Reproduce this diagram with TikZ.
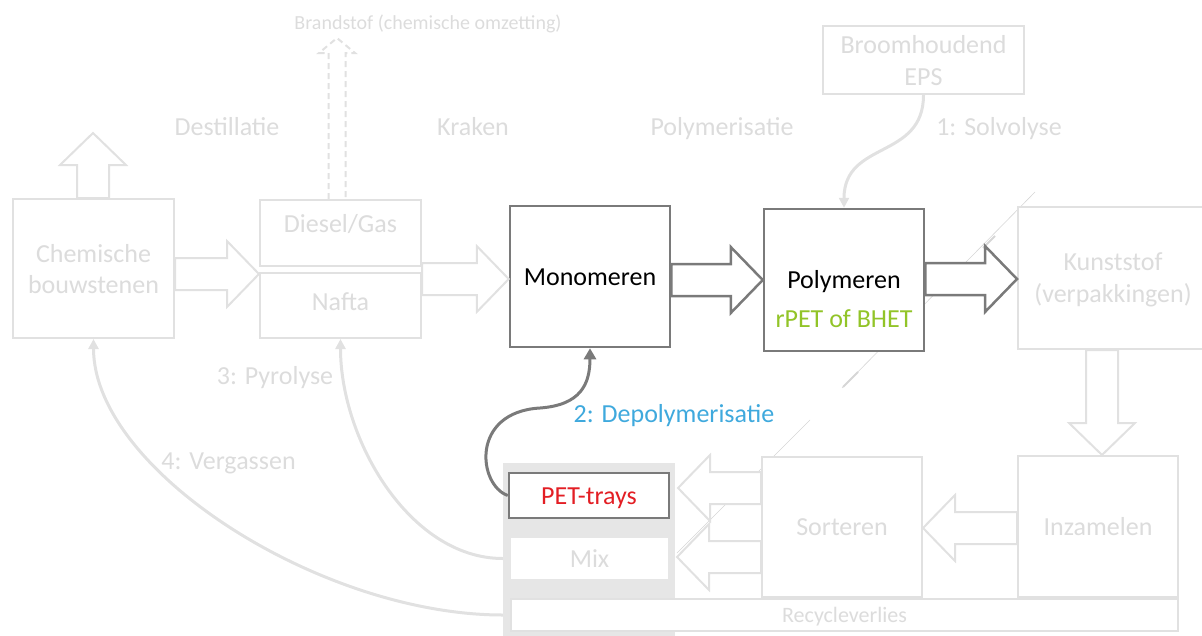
\documentclass[tikz,border=0pt]{standalone}
\usepackage{fontspec}
\setmainfont{Carlito}
\usetikzlibrary{arrows.meta,calc}
\definecolor{lgline}{HTML}{E1E1E1}
\definecolor{lgtext}{HTML}{DCDCDC}
\definecolor{contfill}{HTML}{E6E6E6}
\definecolor{dgline}{HTML}{7A7A7A}
\definecolor{ghostc}{HTML}{D6D6D6}
\definecolor{rpetgreen}{HTML}{92C428}
\definecolor{depblue}{HTML}{3FA9DD}
\definecolor{petred}{HTML}{E31E24}
\newcommand\arS{16pt}
\newcommand\arH{33pt}
\newcommand\arL{32pt}
% right-pointing block arrow: #1 start (x used), #2 tip, #3 style
\newcommand\barrR[3]{\draw[#3] let \p1=#1, \p2=#2 in
  (\x1,{\y2+\arS}) -- ({\x2-\arL},{\y2+\arS}) -- ({\x2-\arL},{\y2+\arH}) -- (\x2,\y2)
  -- ({\x2-\arL},{\y2-\arH}) -- ({\x2-\arL},{\y2-\arS}) -- (\x1,{\y2-\arS}) -- cycle;}
\newcommand\barrL[3]{\draw[#3] let \p1=#1, \p2=#2 in
  (\x1,{\y2+\arS}) -- ({\x2+\arL},{\y2+\arS}) -- ({\x2+\arL},{\y2+\arH}) -- (\x2,\y2)
  -- ({\x2+\arL},{\y2-\arH}) -- ({\x2+\arL},{\y2-\arS}) -- (\x1,{\y2-\arS}) -- cycle;}
\newcommand\barrU[3]{\draw[#3] let \p1=#1, \p2=#2 in
  ({\x2-\arS},\y1) -- ({\x2-\arS},{\y2-\arL}) -- ({\x2-\arH},{\y2-\arL}) -- (\x2,\y2)
  -- ({\x2+\arH},{\y2-\arL}) -- ({\x2+\arS},{\y2-\arL}) -- ({\x2+\arS},\y1) -- cycle;}
\newcommand\barrD[3]{\draw[#3] let \p1=#1, \p2=#2 in
  ({\x2-\arS},\y1) -- ({\x2-\arS},{\y2+\arL}) -- ({\x2-\arH},{\y2+\arL}) -- (\x2,\y2)
  -- ({\x2+\arH},{\y2+\arL}) -- ({\x2+\arS},{\y2+\arL}) -- ({\x2+\arS},\y1) -- cycle;}
\begin{document}
\begin{tikzpicture}[x=1pt,y=-1pt,
  lbox/.style={draw=lgline, line width=2pt, fill=white, inner sep=0pt},
  dbox/.style={draw=dgline, line width=2.5pt, fill=white, inner sep=0pt},
  btxt/.style={font=\fontsize{26}{31}\selectfont, text height=17pt, text depth=0pt},
  lab/.style={font=\fontsize{26}{31}\selectfont, text=lgtext, anchor=base, inner sep=0pt},
  larrow/.style={draw=lgline, line width=2pt, fill=white},
  darrow/.style={draw=dgline, line width=2.5pt, fill=white},
  lcurve/.style={draw=lgline, line width=3pt, -{Triangle[length=10pt,width=10pt]}},
  dcurve/.style={draw=dgline, line width=3pt, -{Triangle[length=11pt,width=12pt]}},
  ghostline/.style={draw=ghostc, line width=0.6pt}
]
\useasboundingbox (0,0) rectangle (1202,635);
\clip (0,0) rectangle (1202,635);

% faint leftover diagonal lines
\draw[ghostline] (677,553) -- (810,420);
\draw[ghostline] (842,388) -- (1035,192);
\draw[ghostline, line width=2pt] (843,387) -- (858,372);
\draw[ghostline, line width=2pt] (983,248) -- (995,236);

% boxes
\node[lbox, minimum width=161pt, minimum height=139pt] (chem) at (93.5,268.5) {};
\node[lab] (chemt1) at (93.5,262) {Chemische};
\node[lab] (chemt2) at (93.5,293) {bouwstenen};

\node[lbox, minimum width=161pt, minimum height=66pt] (diesel) at (340.5,233) {};
\node[lab] (dieselt) at (340.5,232) {Diesel/Gas};
\node[lbox, minimum width=161pt, minimum height=65pt] (nafta) at (340.5,305.5) {};
\node[lab] (naftat) at (340.5,310) {Nafta};

\node[dbox, btxt, minimum width=160pt, minimum height=141pt] (mono) at (590,276.5) {Monomeren};

\node[dbox, minimum width=160pt, minimum height=142pt] (poly) at (844,280) {};
\node[lab, text=black] (polyt) at (844,288) {Polymeren};
\node[lab, text=rpetgreen] (polyt2) at (844,327) {rPET of BHET};

\node[lbox, minimum width=190pt, minimum height=142pt] (kunst) at (1113,278) {};
\node[lab] (kunstt1) at (1113,270) {Kunststof};
\node[lab] (kunstt2) at (1113,302) {(verpakkingen)};

\node[lbox, minimum width=201pt, minimum height=68pt] (eps) at (923.5,60) {};
\node[lab] (epst1) at (923.5,53) {Broomhoudend};
\node[lab] (epst2) at (923.5,85) {EPS};

\node[lbox, btxt, text=lgtext, minimum width=160pt, minimum height=141pt] (inz) at (1098,526.5) {Inzamelen};
\node[lbox, btxt, text=lgtext, minimum width=160pt, minimum height=140pt] (sort) at (842,527) {Sorteren};

\node[fill=contfill, inner sep=0pt, minimum width=172pt, minimum height=180pt] (cont) at (589,553) {};
\node[dbox, btxt, text=petred, minimum width=160pt, minimum height=45pt] (pet) at (589,495.5) {PET-trays};
\node[fill=white, inner sep=0pt, btxt, text=lgtext, minimum width=157pt, minimum height=41pt] (mix) at (589.5,558.5) {Mix};
\node[lbox, font=\fontsize{22}{26}\selectfont, text height=14pt, text depth=0pt, text=lgtext,
      minimum width=667pt, minimum height=32pt] (recyc) at (844.5,615) {Recycleverlies};

% free ends
\coordinate (chemup) at (93,133);
\coordinate (fuel) at (337,38);
\coordinate (petin) at (678,488);
\coordinate (mixin) at (677,557);

% block arrows
\barrU{(chem.north)}{(chemup)}{larrow}
\barrR{(chem.east)}{(diesel.south west |- 0,274)}{larrow}
\barrR{(nafta.east)}{(mono.west |- 0,279)}{larrow}
\barrR{(mono.east)}{(poly.west |- 0,280)}{darrow}
\barrR{(poly.east)}{(kunst.west |- 0,279)}{darrow}
\barrD{(kunst.south)}{(inz.north -| 1102,0)}{larrow}
\barrL{(inz.west)}{(sort.east |- 0,528)}{larrow}
\barrL{(sort.west)}{(petin)}{larrow}
\barrL{(sort.west)}{(mixin)}{larrow}

% dashed fuel arrow
\draw[draw=lgline, line width=2pt, dash pattern=on 6pt off 4pt, line join=miter]
  let \p1=(diesel.north), \p2=(fuel) in
  ({\x2-8.5pt},\y1) -- ({\x2-8.5pt},{\y2-15pt}) -- ({\x2-18pt},{\y2-15pt}) -- (\x2,\y2)
  -- ({\x2+18pt},{\y2-15pt}) -- ({\x2+8.5pt},{\y2-15pt}) -- ({\x2+8.5pt},\y1);

% process curves
\draw[lcurve] (eps.south) .. controls (923.5,160) and (844,140) .. (poly.north);
\draw[dcurve] (pet.west) .. controls (478,485) and (470,412) .. (540,408)
  .. controls (580,405) and (590,385) .. (mono.south);
\draw[lcurve] (cont.west |- mix.west) .. controls (410,558.5) and (340.5,440) .. (nafta.south);
\draw[lcurve] (cont.west |- recyc.west) .. controls (320,615) and (93.5,470) .. (chem.south);

% labels
\node[lab, font=\fontsize{20}{24}\selectfont] (brand) at (428,29) {Brandstof (chemische omzetting)};
\node[lab] (dest) at (227,135) {Destillatie};
\node[lab] (krak) at (473,135) {Kraken};
\node[lab] (polym) at (722,135) {Polymerisatie};
\node[lab] (solv) at (999,135) {1: Solvolyse};
\node[lab] (pyro) at (275,384) {3: Pyrolyse};
\node[lab] (verg) at (228.5,469) {4: Vergassen};
\node[lab, text=depblue] (depo) at (674,422) {2: Depolymerisatie};
\end{tikzpicture}
\end{document}
